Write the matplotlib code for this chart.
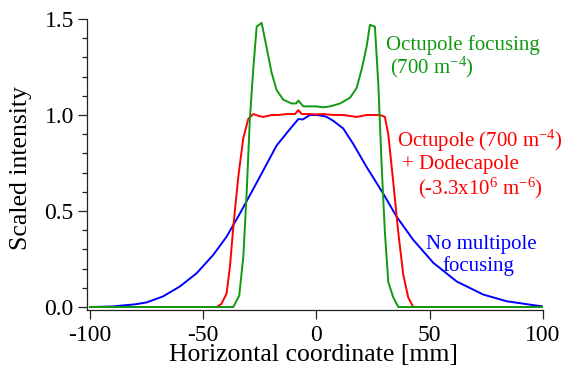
import matplotlib
matplotlib.use("Agg")
import matplotlib.pyplot as plt
from matplotlib.ticker import MultipleLocator

plt.rcParams['font.family'] = ['Liberation Serif', 'DejaVu Serif']
plt.rcParams['mathtext.fontset'] = 'custom'
plt.rcParams['mathtext.rm'] = 'Liberation Serif'
plt.rcParams['mathtext.it'] = 'Liberation Serif:italic'

# --- data ---
blue_x = [-100, -90, -86.7, -80, -75, -67.8, -60.3, -52.9, -45.6, -39.7, -33.8, -29.4,
          -23.5, -17.6, -11.7, -8, -6, -2.9, 0, 3, 4.5, 7.4, 11.8, 16.2, 22.2, 29.5,
          35.4, 42.7, 51.6, 61.9, 73.6, 84, 95.6, 100]
blue_y = [0, 0.003, 0.007, 0.014, 0.024, 0.055, 0.107, 0.176, 0.271, 0.366, 0.487, 0.582,
          0.711, 0.841, 0.927, 0.979, 0.977, 1.0, 1.0, 0.995, 0.99, 0.97, 0.93, 0.85, 0.728,
          0.59, 0.47, 0.35, 0.23, 0.133, 0.065, 0.03, 0.01, 0.003]

red_x = [-100, -44, -41.9, -39.7, -38.2, -36.7, -34.5, -32.3, -30.1, -27.9, -25.5, -23.5,
         -19.8, -17, -13.2, -9.5, -8, -6.5, -3, 0, 3, 7.4, 12, 17.7, 22.2, 28, 30.2, 31.7,
         33.9, 36.1, 38.3, 40.5, 42.7, 100]
red_y = [0, 0, 0.017, 0.07, 0.21, 0.42, 0.68, 0.88, 0.98, 1.005, 0.995, 0.99,
         1.0, 1.0, 1.005, 1.005, 1.025, 1.005, 1.005, 1.003, 1.005, 1.0, 1.0, 0.99, 1.0, 1.0,
         0.99, 0.9, 0.65, 0.39, 0.17, 0.05, 0.0, 0]

green_x = [-100, -36.7, -34.1, -32.3, -30.8, -29.4, -27.9, -26.4, -24.2, -22.0, -19.8,
           -17.6, -14.7, -11.0, -9, -8.0, -5.8, -2.9, 0, 3, 6, 10.4, 14.8, 17.7, 20, 22.2,
           23.6, 25.8, 27.3, 28.8, 30.2, 31.7, 33.9, 36.1, 100]
green_y = [0, 0, 0.06, 0.26, 0.6, 0.98, 1.24, 1.46, 1.48, 1.35, 1.22,
           1.13, 1.08, 1.06, 1.06, 1.075, 1.045, 1.045, 1.045, 1.04, 1.045, 1.06, 1.09, 1.14,
           1.24, 1.36, 1.47, 1.46, 1.16, 0.73, 0.39, 0.13, 0.05, 0.0, 0]

xticks = [-100, -50, 0, 50, 100]
yticks = [0.0, 0.5, 1.0, 1.5]

W, H = 563, 374
fig = plt.figure(figsize=(W / 100, H / 100), dpi=100)
ax = fig.add_axes([87 / W, (H - 310) / H, (543 - 87) / W, (310 - 19) / H])

ax.plot(blue_x, blue_y, color='#0000ff', lw=1.4)
ax.plot(red_x, red_y, color='#ff0000', lw=1.4)
ax.plot(green_x, green_y, color='#119911', lw=1.4)

ax.set_xlim(-101.3, 100)
ax.set_ylim(-0.0155, 1.5)
ax.set_xticks(xticks)
ax.set_xticklabels([str(t) for t in xticks])
ax.set_yticks(yticks)
ax.set_yticklabels([f"{t:.1f}" for t in yticks])
ax.yaxis.set_minor_locator(MultipleLocator(0.1))

for s in ['top', 'right']:
    ax.spines[s].set_visible(False)
for s in ['left', 'bottom']:
    ax.spines[s].set_linewidth(0.9)
    ax.spines[s].set_color('#222222')

ax.tick_params(axis='both', which='major', direction='out', length=6.5, width=0.9,
               labelsize=17, color='#222222')
ax.tick_params(axis='y', which='major', pad=3)
ax.tick_params(axis='x', which='major', pad=4)
ax.tick_params(axis='y', which='minor', direction='out', length=3.8, width=0.9, color='#222222')

xl = ax.set_xlabel('Horizontal coordinate [mm]', fontsize=18.5)
yl = ax.set_ylabel('Scaled intensity', fontsize=18.5)
ax.xaxis.set_label_coords(313 / W, 1 - 355 / H, transform=fig.transFigure)
ax.yaxis.set_label_coords(21 / W, 1 - 168 / H, transform=fig.transFigure)
xl.set_va('center')
yl.set_va('center')

def ftext(x, y, s, color):
    fig.text(x / W, 1 - y / H, s, color=color, fontsize=15, ha='left', va='center')

ftext(386, 45, 'Octupole focusing', '#119911')
ftext(390, 67, r'(700 m$^{\mathrm{-4}}$)', '#119911')
ftext(397, 141, r'Octupole (700 m$^{\mathrm{-4}}$)', '#ff0000')
ftext(402, 164, '+ Dodecapole', '#ff0000')
ftext(418, 188, r'(-3.3x10$^{\mathrm{6}}$ m$^{\mathrm{-6}}$)', '#ff0000')
ftext(426, 245, 'No multipole', '#0000ff')
ftext(442, 266, 'focusing', '#0000ff')

fig.savefig('out.png', dpi=100)
